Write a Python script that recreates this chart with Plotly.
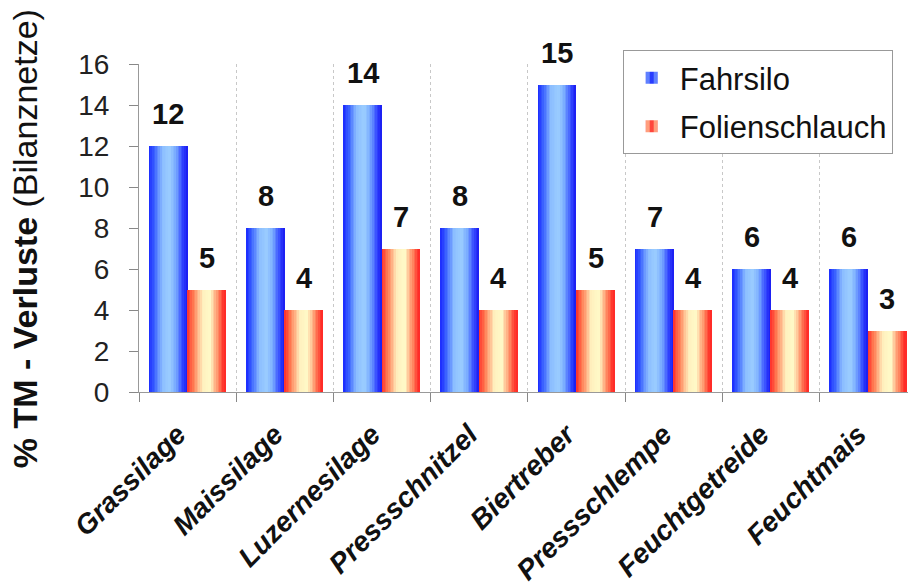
import plotly.graph_objects as go

# Dry-matter losses per feedstuff, bunker silo vs. silage bag
categories = ["Grassilage", "Maissilage", "Luzernesilage", "Pressschnitzel",
              "Biertreber", "Pressschlempe", "Feuchtgetreide", "Feuchtmais"]
fahrsilo = [12, 8, 14, 8, 15, 7, 6, 6]
folienschlauch = [5, 4, 7, 4, 5, 4, 4, 3]

y_ticks = [0, 2, 4, 6, 8, 10, 12, 14, 16]

FONT = "Arial, 'Liberation Sans', sans-serif"
BAR_W = 0.395
N_STRIPS = 24


def lerp(c1, c2, t):
    return tuple(round(a + (b - a) * t) for a, b in zip(c1, c2))


def gradient(stops, t):
    for (t0, c0), (t1, c1) in zip(stops, stops[1:]):
        if t0 <= t <= t1:
            return lerp(c0, c1, (t - t0) / (t1 - t0) if t1 > t0 else 0)
    return stops[-1][1]


# Horizontal shading across each bar (dark edges, light centre)
blue_stops = [(0.0, (25, 40, 255)), (0.15, (60, 100, 255)), (0.35, (140, 190, 255)),
              (0.55, (155, 205, 255)), (0.7, (120, 170, 255)), (0.88, (50, 70, 255)),
              (1.0, (25, 25, 240))]
red_stops = [(0.0, (255, 45, 40)), (0.15, (255, 120, 80)), (0.4, (255, 240, 190)),
             (0.6, (255, 250, 200)), (0.8, (255, 140, 100)), (0.95, (255, 50, 40)),
             (1.0, (255, 40, 40))]

fig = go.Figure()


def add_gradient_bars(values, start, stops):
    step = BAR_W / N_STRIPS
    for k in range(N_STRIPS):
        t = (k + 0.5) / N_STRIPS
        r, g, b = gradient(stops, t)
        fig.add_trace(go.Bar(
            x=categories, y=values,
            offset=start + k * step,
            width=step * (1.15 if k < N_STRIPS - 1 else 1.0),
            marker=dict(color=f"rgb({r},{g},{b})", line=dict(width=0)),
            showlegend=False, hoverinfo="skip",
        ))


add_gradient_bars(fahrsilo, -BAR_W, blue_stops)
add_gradient_bars(folienschlauch, 0.0, red_stops)

# Legend entries with a striped swatch
fig.add_trace(go.Bar(
    x=categories, y=[None] * len(categories), name="Fahrsilo", legendgroup="a",
    marker=dict(color="rgb(40,60,255)", line=dict(width=0),
                pattern=dict(shape="|", fgcolor="rgb(150,195,255)",
                             bgcolor="rgb(40,60,255)", size=12, solidity=0.5)),
))
fig.add_trace(go.Bar(
    x=categories, y=[None] * len(categories), name="Folienschlauch", legendgroup="b",
    marker=dict(color="rgb(255,70,60)", line=dict(width=0),
                pattern=dict(shape="|", fgcolor="rgb(255,245,190)",
                             bgcolor="rgb(255,70,60)", size=12, solidity=0.5)),
))

# Value labels above each bar
for series, shift in ((fahrsilo, -BAR_W / 2), (folienschlauch, BAR_W / 2)):
    for i, v in enumerate(series):
        fig.add_annotation(
            x=i + shift, y=v, xref="x", yref="y", text=f"<b>{v}</b>",
            showarrow=False, yanchor="bottom", yshift=14,
            font=dict(family=FONT, size=29, color="#111111"),
        )

# Y axis title (bold part + normal part)
fig.add_annotation(
    xref="paper", yref="paper", x=-0.149, y=0.467,
    xanchor="center", yanchor="middle",
    text="<b>% TM - Verluste</b> (Bilanznetze)", textangle=-90,
    showarrow=False, font=dict(family=FONT, size=34, color="#111111"),
)

fig.update_layout(
    width=908, height=586,
    margin=dict(l=139, r=0, t=64, b=192),
    paper_bgcolor="white", plot_bgcolor="white",
    barmode="overlay", bargap=0,
    font=dict(family=FONT, color="#111111"),
    legend=dict(
        x=0.629, y=1.042, xanchor="left", yanchor="top",
        bgcolor="white", bordercolor="#999999", borderwidth=1,
        font=dict(family=FONT, size=31, color="#111111"),
        itemwidth=46, tracegroupgap=5, traceorder="grouped",
    ),
    showlegend=True,
)

fig.update_xaxes(
    type="category", range=[-0.5, 7.41],
    tickson="boundaries", ticks="outside", ticklen=9, tickcolor="#888888",
    showline=True, linecolor="#999999", linewidth=1,
    showgrid=True, gridcolor="#c8c8c8", griddash="dot", gridwidth=1,
    tickangle=-45, ticklabelstandoff=14, ticklabelshift=-10,
    tickfont=dict(family=FONT, size=28, color="#111111", weight="bold", style="italic"),
)
fig.update_yaxes(
    range=[0, 16], tickvals=y_ticks, ticktext=[str(t) for t in y_ticks],
    ticks="outside", ticklen=9, tickcolor="#888888",
    showline=True, linecolor="#999999", linewidth=1,
    showgrid=False, zeroline=False,
    ticklabelstandoff=14,
    tickfont=dict(family=FONT, size=28, color="#222222"),
)

fig.write_html("out.html")
